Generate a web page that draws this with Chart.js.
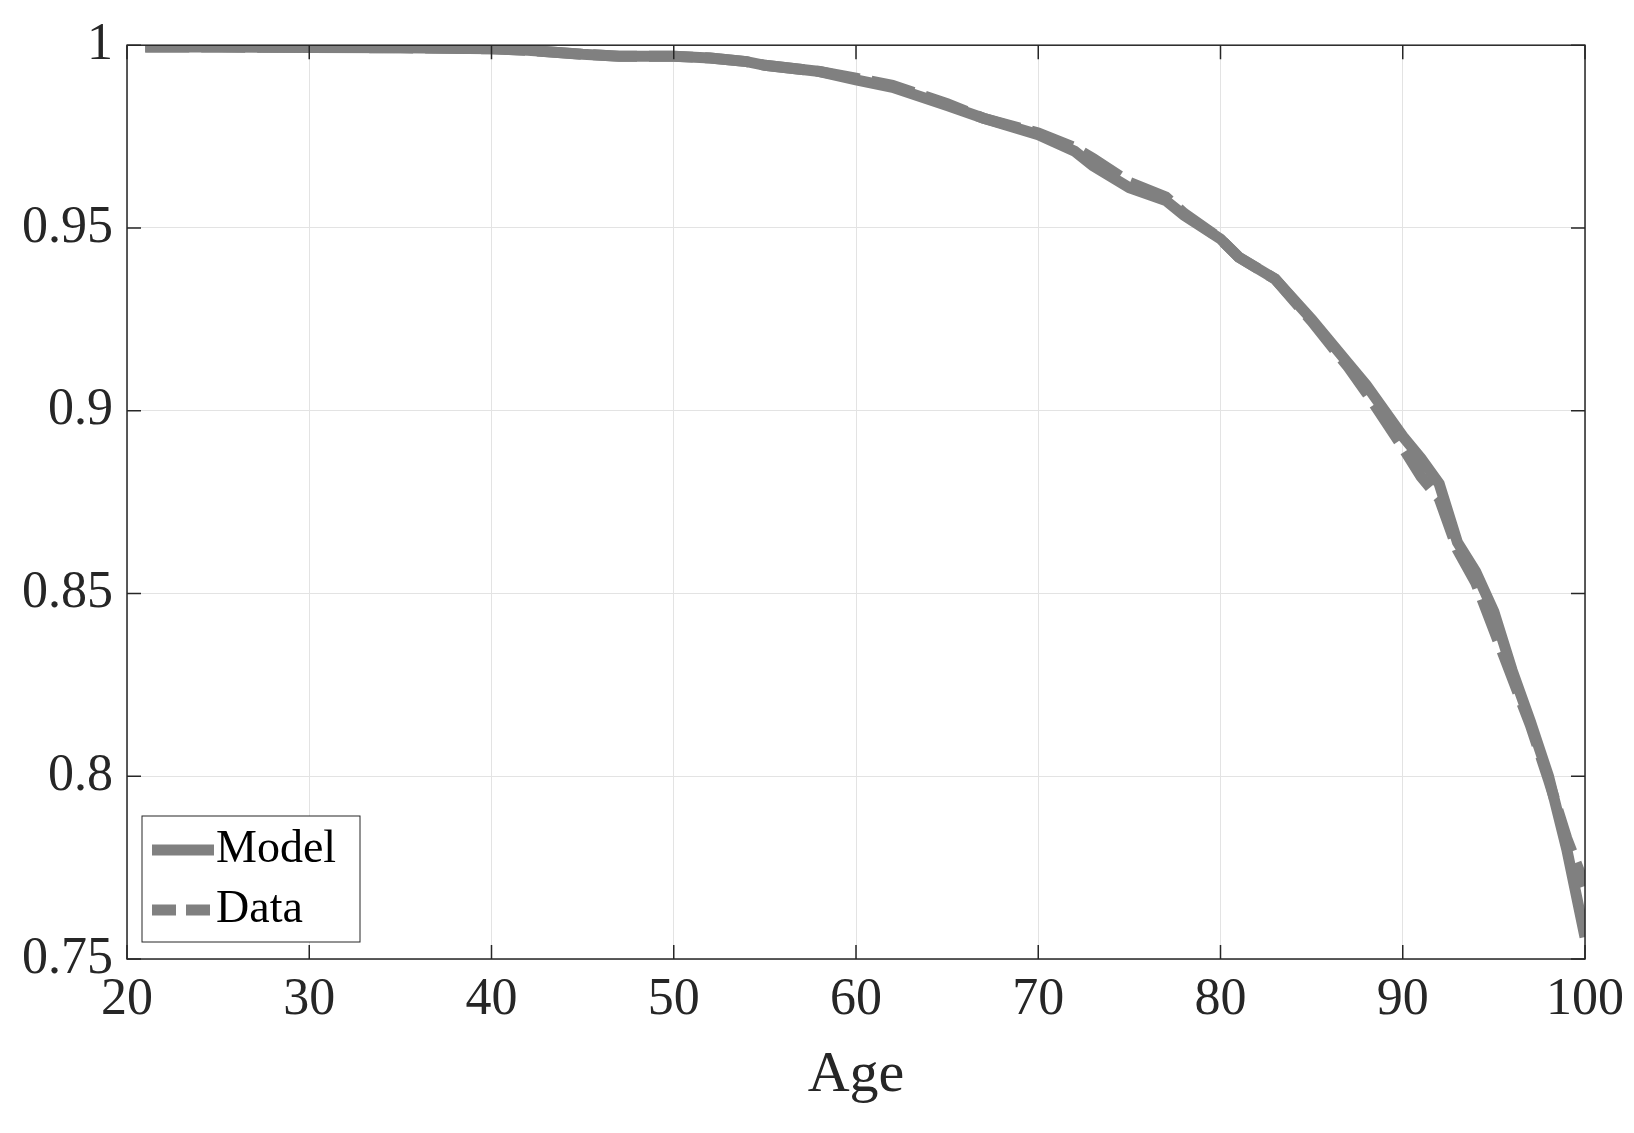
<!DOCTYPE html>
<html><head><meta charset="utf-8">
<script src="https://cdn.jsdelivr.net/npm/chart.js@4"></script>
<style>html,body{margin:0;background:#fff}#w{width:1634px;height:1133px}</style>
</head><body><div id="w"><canvas id="c"></canvas></div>
<script>
const ages = [21,25,30,35,40,42,45,47,50,52,54,55,58,60,62,65,67,70,72,73,75,77,78,80,81,83,85,87,88,90,91,92,93,94,95,96,97,98,99,100];
const model = [0.9995,0.9995,0.9994,0.9993,0.9990,0.9986,0.9975,0.9970,0.9970,0.9965,0.9955,0.9945,0.9928,0.9905,0.9885,0.9835,0.9800,0.9755,0.9710,0.9670,0.9610,0.9575,0.9535,0.9470,0.9420,0.9360,0.9250,0.9130,0.9070,0.8930,0.8870,0.8800,0.8640,0.8560,0.8450,0.8290,0.8150,0.8000,0.7800,0.7560];
const data = [0.9995,0.9995,0.9994,0.9993,0.9990,0.9986,0.9975,0.9970,0.9970,0.9965,0.9955,0.9945,0.9928,0.9910,0.9890,0.9840,0.9800,0.9760,0.9720,0.9690,0.9625,0.9585,0.9540,0.9470,0.9420,0.9360,0.9245,0.9120,0.9050,0.8900,0.8820,0.8760,0.8620,0.8530,0.8400,0.8270,0.8140,0.7990,0.7830,0.7700];
const gray = '#808080';
const frame = {id:'frame', afterDraw(ch){const a=ch.chartArea,x=ch.ctx;x.save();x.strokeStyle='#262626';x.lineWidth=1.5;x.strokeRect(a.left,a.top,a.width,a.height);
 const xs=ch.scales.x, ys=ch.scales.y;
 xs.ticks.forEach(t=>{const p=xs.getPixelForValue(t.value);x.beginPath();x.moveTo(p,a.bottom);x.lineTo(p,a.bottom-14);x.moveTo(p,a.top);x.lineTo(p,a.top+14);x.stroke();});
 ys.ticks.forEach(t=>{const p=ys.getPixelForValue(t.value);x.beginPath();x.moveTo(a.left,p);x.lineTo(a.left+14,p);x.moveTo(a.right,p);x.lineTo(a.right-14,p);x.stroke();});
 const lx=a.left+15,ly=a.bottom-143,w=218,h=126;x.fillStyle='#fff';x.fillRect(lx,ly,w,h);x.lineWidth=1;x.strokeRect(lx,ly,w,h);
 x.strokeStyle=gray;x.lineWidth=11;x.beginPath();x.moveTo(lx+10,ly+34);x.lineTo(lx+72,ly+34);x.stroke();
 x.setLineDash([24,10]);x.beginPath();x.moveTo(lx+10,ly+94);x.lineTo(lx+72,ly+94);x.stroke();x.setLineDash([]);
 x.fillStyle='#000';x.font='46px "Liberation Serif"';x.textBaseline='middle';x.fillText('Model',lx+74,ly+34);x.fillText('Data',lx+74,ly+94);
 x.restore();}};
new Chart(document.getElementById('c'),{type:'line',
 data:{labels:ages,datasets:[
  {label:'Model',data:ages.map((a,i)=>({x:a,y:model[i]})),borderColor:gray,borderWidth:11,pointRadius:0,tension:0},
  {label:'Data',data:ages.map((a,i)=>({x:a,y:data[i]})),borderColor:gray,borderWidth:11,borderDash:[44,12],pointRadius:0,tension:0}]},
 options:{responsive:true,maintainAspectRatio:false,animation:false,
  layout:{padding:{top:20,right:49,bottom:22,left:0}},
  plugins:{legend:{display:false},tooltip:{enabled:false}},
  scales:{
   x:{type:'linear',min:20,max:100,ticks:{stepSize:10,color:'#262626',font:{family:'Liberation Serif',size:52},padding:10},
      grid:{color:'#e3e3e3',drawTicks:false},border:{display:false},
      title:{display:true,text:'Age',color:'#262626',font:{family:'Liberation Serif',size:58},padding:0}},
   y:{min:0.75,max:1,afterFit(s){s.width=127;},ticks:{stepSize:0.05,color:'#262626',font:{family:'Liberation Serif',size:52},padding:14,callback:v=>String(+v.toFixed(2))},
      grid:{color:'#e3e3e3',drawTicks:false},border:{display:false}}}},
 plugins:[frame]});
</script></body></html>
